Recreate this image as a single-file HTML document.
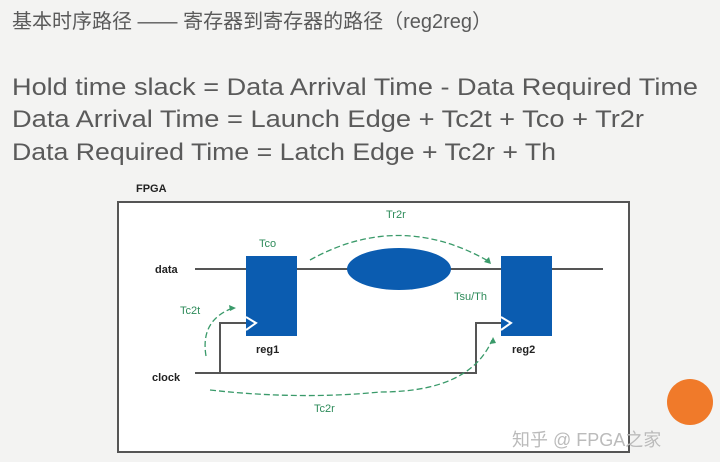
<!DOCTYPE html>
<html><head><meta charset="utf-8"><style>
html,body{margin:0;padding:0;background:#f3f3f2;}
svg{display:block}
</style></head><body>
<svg width="720" height="462" viewBox="0 0 720 462" xmlns="http://www.w3.org/2000/svg">
<rect width="720" height="462" fill="#f3f3f2"/>
<g font-family="Liberation Sans, Noto Sans CJK SC, sans-serif" fill="#5a5a5a">
<text x="12" y="28" font-size="20">基本时序路径 —— 寄存器到寄存器的路径（reg2reg）</text>
<text x="12" y="95" font-size="24" textLength="686" lengthAdjust="spacingAndGlyphs">Hold time slack = Data Arrival Time - Data Required Time</text>
<text x="12" y="127" font-size="24" textLength="632" lengthAdjust="spacingAndGlyphs">Data Arrival Time = Launch Edge + Tc2t + Tco + Tr2r</text>
<text x="12" y="160" font-size="24" textLength="544" lengthAdjust="spacingAndGlyphs">Data Required Time = Latch Edge + Tc2r + Th</text>
</g>
<rect x="118" y="202" width="511" height="250" fill="#fff" stroke="#555" stroke-width="2"/>
<g font-family="Liberation Sans, sans-serif" font-weight="bold" font-size="11" fill="#222">
<text x="136" y="192">FPGA</text>
<text x="155" y="273">data</text>
<text x="152" y="381">clock</text>
<text x="256" y="353">reg1</text>
<text x="512" y="353">reg2</text>
</g>
<g stroke="#555" stroke-width="2" fill="none">
<line x1="195" y1="269" x2="246" y2="269"/>
<line x1="297" y1="269" x2="350" y2="269"/>
<line x1="448" y1="269" x2="501" y2="269"/>
<line x1="552" y1="269" x2="603" y2="269"/>
<polyline points="195,373 476,373 476,323 501,323"/>
<polyline points="220,373 220,323 246,323"/>
</g>
<rect x="246" y="256" width="51" height="80" fill="#0b5cb0"/>
<rect x="501" y="256" width="51" height="80" fill="#0b5cb0"/>
<ellipse cx="399" cy="269" rx="52" ry="21" fill="#0b5cb0"/>
<g stroke="#fff" stroke-width="2" fill="none">
<polyline points="246,317 256,323 246,330"/>
<polyline points="501,317 511,323 501,330"/>
</g>
<g stroke="#3a9a6a" stroke-width="1.3" fill="none" stroke-dasharray="6,3">
<path d="M310,260 Q400,210 490,262"/>
<path d="M206,356 Q200,320 233,308"/>
<path d="M210,390 Q300,400 380,392 Q470,392 492,340"/>
</g>
<g fill="#3a9a6a">
<polygon points="491,264 484,262 489,257"/>
<polygon points="236,308 229,305 230,311"/>
<polygon points="493,337 490,344 496,343"/>
</g>
<g font-family="Liberation Sans, sans-serif" font-size="11" fill="#2e8b5a">
<text x="259" y="247">Tco</text>
<text x="386" y="218">Tr2r</text>
<text x="454" y="300">Tsu/Th</text>
<text x="180" y="314">Tc2t</text>
<text x="314" y="412">Tc2r</text>
</g>
<circle cx="690" cy="402" r="23" fill="#f07a2a"/>
<text x="512" y="446" font-family="Liberation Sans, Noto Sans CJK SC, sans-serif" font-size="18" fill="#bbb">知乎 @ FPGA之家</text>
</svg>
</body></html>
